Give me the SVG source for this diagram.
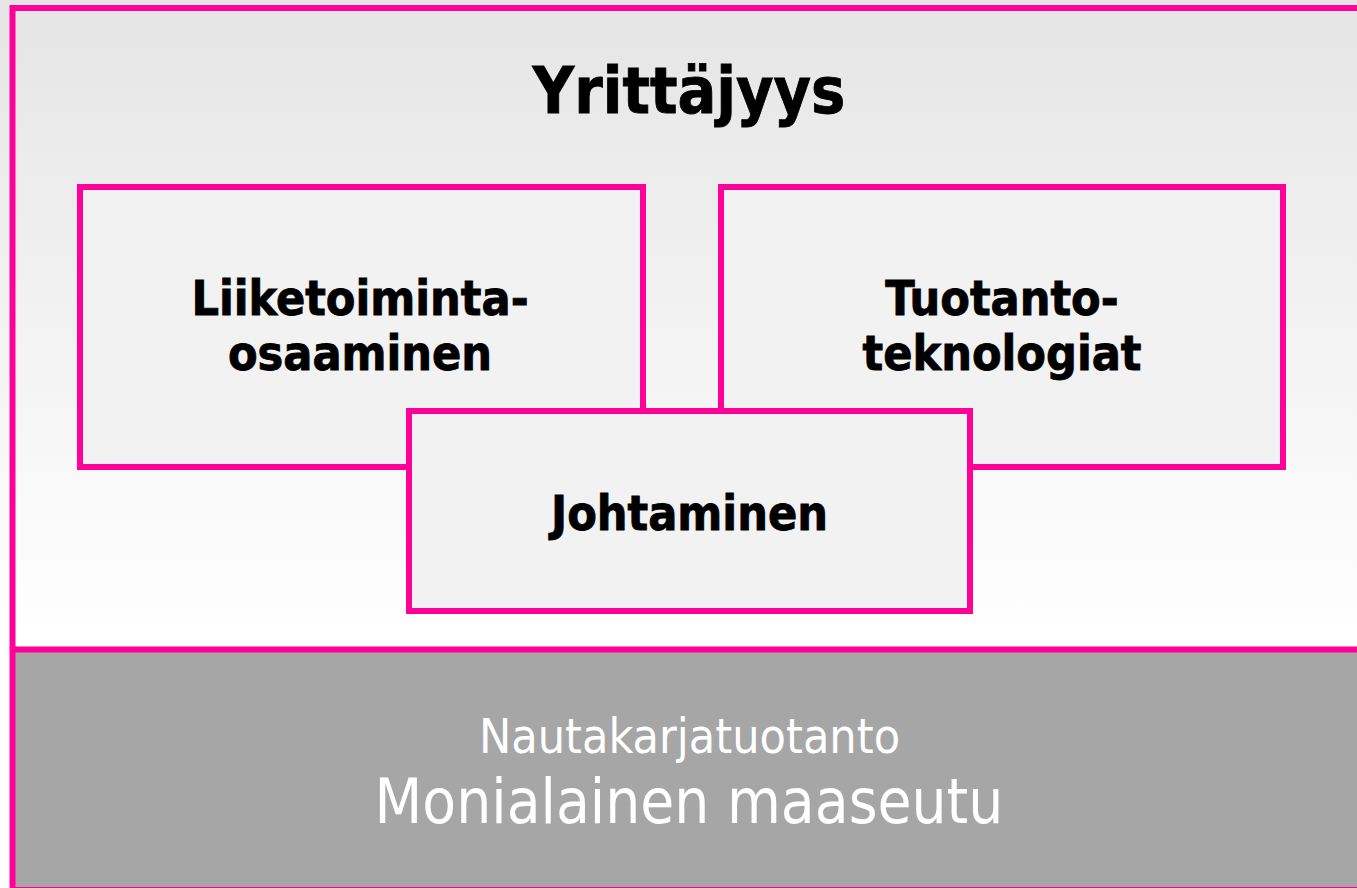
<svg xmlns="http://www.w3.org/2000/svg" width="1357" height="888" viewBox="0 0 1357 888">
  <defs>
    <linearGradient id="bg" x1="0" y1="0" x2="0" y2="640" gradientUnits="userSpaceOnUse">
      <stop offset="0" stop-color="#e5e5e5"/>
      <stop offset="1" stop-color="#ffffff"/>
    </linearGradient>
  </defs>
  <style>
    .frame { fill: none; stroke: #ff0099; stroke-width: 6; }
    .box { fill: #f2f2f2; stroke: #ff0099; stroke-width: 6; }
    .lbl { font-family: "DejaVu Sans Condensed", "DejaVu Sans", sans-serif; font-stretch: condensed; font-weight: bold; font-size: 48px; fill: #000000; stroke: #000000; stroke-width: 0.8; text-anchor: middle; }
    .title { font-family: "DejaVu Sans Condensed", "DejaVu Sans", sans-serif; font-stretch: condensed; font-weight: bold; font-size: 64px; fill: #000000; stroke: #000000; stroke-width: 0.8; text-anchor: middle; }
    .base { font-family: "DejaVu Sans Condensed", "DejaVu Sans", sans-serif; font-stretch: condensed; fill: #ffffff; text-anchor: middle; }
  </style>
  <rect x="0" y="0" width="1357" height="888" fill="url(#bg)"/>
  <g id="frame">
    <rect x="15" y="652" width="1342" height="235" fill="#a6a6a6"/>
    <line x1="12.5" y1="8" x2="1357" y2="8" class="frame"/>
    <line x1="12.5" y1="5" x2="12.5" y2="888" class="frame"/>
    <line x1="12.5" y1="649.5" x2="1357" y2="649.5" class="frame"/>
    <line x1="12.5" y1="887.5" x2="1357" y2="887.5" stroke="#ff0099" stroke-width="1"/>
  </g>
  <g id="title">
    <text x="689" y="113" class="title">Yrittäjyys</text>
  </g>
  <g id="node-liiketoiminta">
    <rect x="80" y="187" width="563" height="280" class="box"/>
    <text x="360" y="315" class="lbl">Liiketoiminta-</text>
    <text x="360" y="370" class="lbl">osaaminen</text>
  </g>
  <g id="node-tuotanto">
    <rect x="721" y="187" width="562" height="280" class="box"/>
    <text x="1002" y="315" class="lbl">Tuotanto-</text>
    <text x="1002" y="370" class="lbl">teknologiat</text>
  </g>
  <g id="node-johtaminen">
    <rect x="409" y="411" width="561" height="200" class="box"/>
    <text x="689.5" y="530" class="lbl" font-size="50">Johtaminen</text>
  </g>
  <g id="connectors"></g>
  <g id="base">
    <text x="689.5" y="753" class="base" font-size="48">Nautakarjatuotanto</text>
    <text x="689" y="823" class="base" font-size="61.5">Monialainen maaseutu</text>
  </g>
</svg>
